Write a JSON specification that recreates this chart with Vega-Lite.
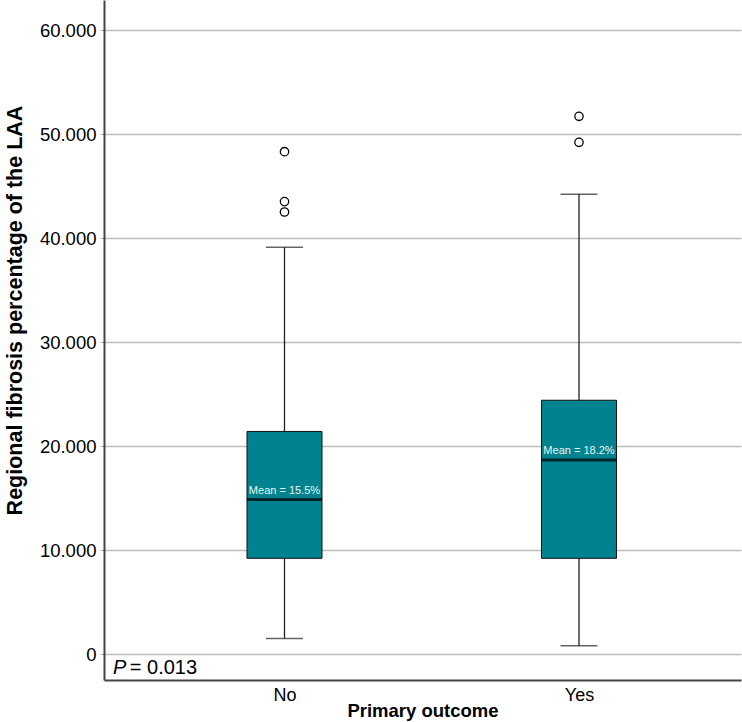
{
  "$schema": "https://vega.github.io/schema/vega-lite/v6.json",
  "width": 637,
  "height": 680,
  "autosize": {"type": "none"},
  "padding": {"left": 104, "top": 0, "right": 1, "bottom": 42},
  "background": "white",
  "config": {
    "view": {"stroke": null},
    "font": "Liberation Sans"
  },
  "datasets": {
    "stats": [
      {"group": "No", "lower": 1.5, "q1": 9.2, "median": 14.85, "q3": 21.4, "upper": 39.1, "label": "Mean = 15.5%"},
      {"group": "Yes", "lower": 0.8, "q1": 9.2, "median": 18.65, "q3": 24.4, "upper": 44.2, "label": "Mean = 18.2%"}
    ],
    "outliers": [
      {"group": "No", "value": 48.3},
      {"group": "No", "value": 43.5},
      {"group": "No", "value": 42.5},
      {"group": "Yes", "value": 51.7},
      {"group": "Yes", "value": 49.2}
    ],
    "note": [
      {"p": "P", "rest": "= 0.013", "xpos": 0.0141, "xpos2": 0.0405, "ypos": -1.3}
    ]
  },
  "resolve": {"scale": {"x": "independent"}},
  "layer": [
    {
      "data": {"name": "stats"},
      "encoding": {
        "x": {
          "field": "group",
          "type": "nominal",
          "scale": {"type": "point", "padding": 0.5815, "align": 0.527},
          "axis": {
            "title": "Primary outcome",
            "labelAngle": 0,
            "labelFontSize": 18,
            "labelColor": "black",
            "labelPadding": 6,
            "ticks": false,
            "domainColor": "#444444",
            "domainWidth": 2,
            "titleFontSize": 18.5,
            "titleFontWeight": "bold",
            "titleColor": "black",
            "titlePadding": -3
          }
        }
      },
      "layer": [
        {
          "mark": {"type": "rule", "color": "#222222", "strokeWidth": 1.3},
          "encoding": {
            "y": {
              "field": "lower",
              "type": "quantitative",
              "scale": {"domain": [-2.5, 62.885], "nice": false, "zero": false},
              "axis": {
                "title": "Regional fibrosis percentage of the LAA",
                "values": [0, 10, 20, 30, 40, 50, 60],
                "labelExpr": "datum.value == 0 ? '0' : format(datum.value, '.3f')",
                "labelFontSize": 18.5,
                "labelColor": "black",
                "labelPadding": 5,
                "tickSize": 3,
                "tickColor": "#888888",
                "domainColor": "#444444",
                "domainWidth": 2,
                "grid": true,
                "gridColor": "#bdbdbd",
                "gridWidth": 1.5,
                "titleFontSize": 21.5,
                "titleFontWeight": "bold",
                "titleColor": "black",
                "titlePadding": 13,
                "titleY": 310
              }
            },
            "y2": {"field": "upper"}
          }
        },
        {
          "mark": {"type": "tick", "color": "#222222", "size": 37, "thickness": 1.5},
          "encoding": {"y": {"field": "lower", "type": "quantitative"}}
        },
        {
          "mark": {"type": "tick", "color": "#222222", "size": 37, "thickness": 1.5},
          "encoding": {"y": {"field": "upper", "type": "quantitative"}}
        },
        {
          "mark": {"type": "bar", "size": 75, "fill": "#00838f", "stroke": "#111111", "strokeWidth": 1},
          "encoding": {
            "y": {"field": "q1", "type": "quantitative"},
            "y2": {"field": "q3"}
          }
        },
        {
          "mark": {"type": "tick", "color": "#000000", "size": 75, "thickness": 3},
          "encoding": {"y": {"field": "median", "type": "quantitative"}}
        },
        {
          "mark": {"type": "text", "color": "#eaf6f6", "fontSize": 11, "baseline": "bottom", "dy": -4},
          "encoding": {
            "y": {"field": "median", "type": "quantitative"},
            "text": {"field": "label"}
          }
        }
      ]
    },
    {
      "data": {"name": "outliers"},
      "mark": {"type": "point", "shape": "circle", "filled": false, "stroke": "black", "strokeWidth": 1.3, "size": 70, "opacity": 1},
      "encoding": {
        "x": {
          "field": "group",
          "type": "nominal",
          "scale": {"type": "point", "padding": 0.5815, "align": 0.527},
          "axis": null
        },
        "y": {"field": "value", "type": "quantitative"}
      }
    },
    {
      "data": {"name": "note"},
      "layer": [
        {
          "mark": {"type": "text", "fontSize": 20, "fontStyle": "italic", "align": "left", "baseline": "middle", "color": "black"},
          "encoding": {
            "x": {"field": "xpos", "type": "quantitative", "scale": {"domain": [0, 1]}, "axis": null},
            "y": {"field": "ypos", "type": "quantitative"},
            "text": {"field": "p"}
          }
        },
        {
          "mark": {"type": "text", "fontSize": 20, "align": "left", "baseline": "middle", "color": "black"},
          "encoding": {
            "x": {"field": "xpos2", "type": "quantitative", "scale": {"domain": [0, 1]}, "axis": null},
            "y": {"field": "ypos", "type": "quantitative"},
            "text": {"field": "rest"}
          }
        }
      ]
    }
  ]
}
